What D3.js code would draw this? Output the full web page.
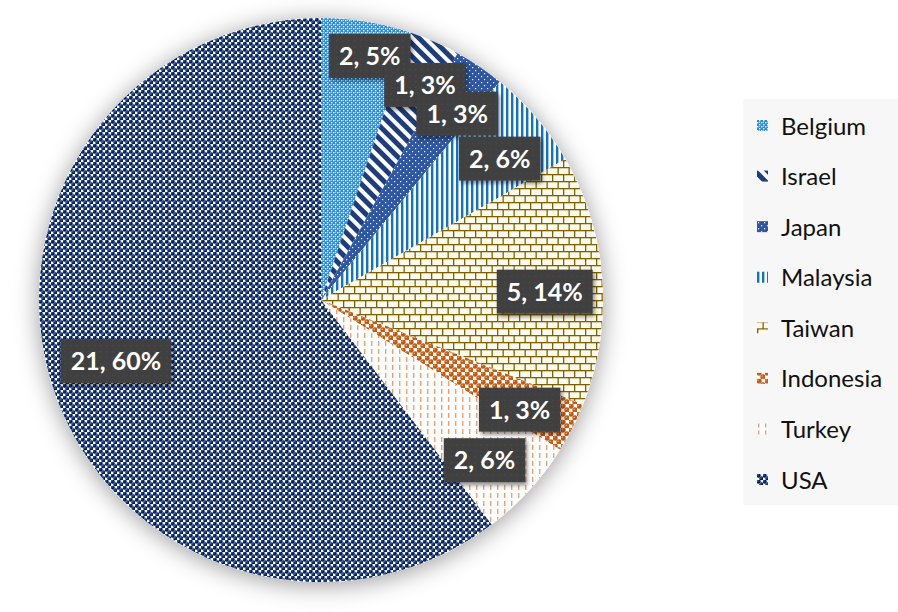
<!DOCTYPE html>
<html>
<head>
<meta charset="utf-8">
<script src="https://cdn.jsdelivr.net/npm/d3@7"></script>
<style>
html,body{margin:0;padding:0;background:#fff;}
svg{display:block;}
</style>
</head>
<body>
<svg id="chart" width="898" height="612"></svg>
<script>
// ---- data ----
const countries = ["Belgium","Israel","Japan","Malaysia","Taiwan","Indonesia","Turkey","USA"];
const values    = [1.8, 1, 1, 2, 5, 1, 2, 21];

const svg = d3.select("#chart");
const W = 898, H = 612;
const cx = 321, cy = 300, R = 282;

const defs = svg.append("defs");

// shadows
const f1 = defs.append("filter").attr("id","pieShadow").attr("x","-30%").attr("y","-30%").attr("width","160%").attr("height","160%");
f1.append("feDropShadow").attr("dx",0).attr("dy",3).attr("stdDeviation",12).attr("flood-color","#000").attr("flood-opacity",0.4);
const f2 = defs.append("filter").attr("id","lblShadow").attr("x","-20%").attr("y","-20%").attr("width","150%").attr("height","160%");
f2.append("feDropShadow").attr("dx",2).attr("dy",3).attr("stdDeviation",2).attr("flood-color","#000").attr("flood-opacity",0.45);

// patterns
function pat(id, w, h, draw, transform){
  const p = defs.append("pattern").attr("id",id).attr("patternUnits","userSpaceOnUse")
    .attr("width",w).attr("height",h);
  if (transform) p.attr("patternTransform",transform);
  draw(p);
}
// Belgium: blue fine lattice
pat("p0",4,4,p=>{
  p.append("rect").attr("width",4).attr("height",4).attr("fill","#2a8ad6");
  p.append("rect").attr("x",0).attr("y",0).attr("width",1.4).attr("height",1.4).attr("fill","#fff");
  p.append("rect").attr("x",2).attr("y",2).attr("width",1.4).attr("height",1.4).attr("fill","#fff");
  p.append("rect").attr("x",2).attr("y",0).attr("width",1).attr("height",1).attr("fill","#9ccbef");
});
// Israel: wide downward diagonal stripes
pat("p1",9,9,p=>{
  p.append("rect").attr("width",9).attr("height",9).attr("fill","#fff");
  p.append("rect").attr("width",5).attr("height",9).attr("fill","#1f3d7a");
},"rotate(-45)");
// Japan: blue with small white dots
pat("p2",6,6,p=>{
  p.append("rect").attr("width",6).attr("height",6).attr("fill","#2e56a3");
  p.append("rect").attr("x",1).attr("y",1).attr("width",1.2).attr("height",1.2).attr("fill","#fff");
  p.append("rect").attr("x",4).attr("y",4).attr("width",1.2).attr("height",1.2).attr("fill","#fff");
});
// Malaysia: vertical stripes
pat("p3",5,5,p=>{
  p.append("rect").attr("width",5).attr("height",5).attr("fill","#fff");
  p.append("rect").attr("width",2.4).attr("height",5).attr("fill","#1272c4");
});
// Taiwan: bricks
pat("p4",11,14,p=>{
  p.append("rect").attr("width",11).attr("height",14).attr("fill","#fffcee");
  const c="#7f6000", sw=1.3;
  p.append("line").attr("x1",0).attr("x2",11).attr("y1",0.65).attr("y2",0.65).attr("stroke",c).attr("stroke-width",sw);
  p.append("line").attr("x1",0).attr("x2",11).attr("y1",7.65).attr("y2",7.65).attr("stroke",c).attr("stroke-width",sw);
  p.append("line").attr("x1",0.65).attr("x2",0.65).attr("y1",0).attr("y2",7).attr("stroke",c).attr("stroke-width",sw);
  p.append("line").attr("x1",6.15).attr("x2",6.15).attr("y1",7).attr("y2",14).attr("stroke",c).attr("stroke-width",sw);
});
// Indonesia: orange spheres
pat("p5",8,8,p=>{
  p.append("rect").attr("width",8).attr("height",8).attr("fill","#fff");
  [[2,2],[6,6]].forEach(([x,y])=>{
    p.append("circle").attr("cx",x).attr("cy",y).attr("r",2.7).attr("fill","#c55a11");
    p.append("circle").attr("cx",x-0.8).attr("cy",y-0.8).attr("r",0.7).attr("fill","#f0b48a");
  });
});
// Turkey: light orange short vertical dashes
pat("p6",7,16,p=>{
  p.append("rect").attr("width",7).attr("height",16).attr("fill","#fff");
  p.append("rect").attr("x",1).attr("y",1).attr("width",1.4).attr("height",5).attr("fill","#eea16e");
  p.append("rect").attr("x",1).attr("y",9).attr("width",1.4).attr("height",5).attr("fill","#eea16e");
});
// USA: navy spheres checker
pat("p7",6,6,p=>{
  p.append("rect").attr("width",6).attr("height",6).attr("fill","#fff");
  [[1.5,1.5],[4.5,4.5]].forEach(([x,y])=>{
    p.append("circle").attr("cx",x).attr("cy",y).attr("r",2.2).attr("fill","#002060");
    p.append("circle").attr("cx",x-0.6).attr("cy",y-0.7).attr("r",0.6).attr("fill","#8fa6d6");
  });
  p.append("rect").attr("x",4).attr("y",0.5).attr("width",1).attr("height",1).attr("fill","#c8d4ee");
});
// label box texture
pat("pl",6,6,p=>{
  p.append("rect").attr("width",6).attr("height",6).attr("fill","#3f3f3f");
  p.append("rect").attr("x",2).attr("y",2).attr("width",1.5).attr("height",1.5).attr("fill","#4a4a4a");
});

const color = d3.scaleOrdinal().domain(countries).range(countries.map((d,i)=>`url(#p${i})`));

const data = countries.map((c,i)=>({country:c, value:values[i]}));
const total = d3.sum(values);
const pie = d3.pie().value(d=>d.value).sort(null);
const arcs = pie(data);
const arc = d3.arc().innerRadius(0).outerRadius(R);

const g = svg.append("g").attr("transform",`translate(${cx},${cy})`);
g.append("circle").attr("r",R).attr("fill","#fff").attr("filter","url(#pieShadow)");
g.selectAll("path.slice").data(arcs).join("path").attr("class","slice")
  .attr("d",arc).attr("fill",d=>color(d.data.country));

// labels ("best fit"-like placement)
const fmtPct = d3.format(".0%");
const boxLayer = g.append("g");
const textLayer = g.append("g");
const angOff = 2*Math.PI/180;
const labels = arcs.map(d=>{
  const txt = `${Math.round(d.data.value)}, ${fmtPct(d.data.value/total)}`;
  const bg = boxLayer.append("g");
  const tg = textLayer.append("g");
  const rect = bg.append("rect").attr("fill","url(#pl)").attr("filter","url(#lblShadow)");
  const t = tg.append("text").text(txt).attr("text-anchor","middle").attr("dy","0.36em")
    .attr("fill","#fff").attr("font-family","Lato, 'Open Sans', sans-serif").attr("font-weight","bold")
    .attr("font-size",25);
  const bb = t.node().getBBox();
  const pw = 10, h = 44;
  rect.attr("x",bb.x-pw).attr("y",-h/2).attr("width",bb.width+2*pw).attr("height",h);
  return {bg, tg, a:(d.startAngle+d.endAngle)/2+angOff, r:R*0.84, tw:bb.width, bw:bb.width+2*pw, bh:h};
});
const pos = L => [Math.sin(L.a)*L.r, -Math.cos(L.a)*L.r];
// keep boxes inside the circle
labels.forEach(L=>{
  const fits = ()=>{
    const [x,y]=pos(L);
    return [[-1,-1],[1,-1],[-1,1],[1,1]].every(([sx,sy])=>Math.hypot(x+sx*L.bw/2,y+sy*L.bh/2)<=R-8);
  };
  while(!fits() && L.r>R*0.5) L.r -= 1;
});
// resolve text collisions by pushing the earlier label outward
for (let it=0; it<300; it++){
  let moved=false;
  for (let i=0;i<labels.length;i++){
    const j=(i+1)%labels.length;
    const A=labels[i], B=labels[j];
    const [ax,ay]=pos(A), [bx,by]=pos(B);
    if (Math.abs(ax-bx) < (A.tw+B.tw)/2+4 && Math.abs(ay-by) < 28){ A.r += 1; moved=true; }
  }
  if(!moved) break;
}
labels.forEach(L=>{
  const [x,y]=pos(L);
  L.bg.attr("transform",`translate(${x},${y})`);
  L.tg.attr("transform",`translate(${x},${y})`);
});

// legend
svg.append("rect").attr("x",743).attr("y",99).attr("width",W-743).attr("height",406).attr("fill","#f7f7f7");
const ly = d3.scalePoint().domain(countries).range([126,480]);
const leg = svg.append("g");
countries.forEach(c=>{
  const gi = leg.append("g").attr("transform",`translate(757,${ly(c)})`);
  gi.append("rect").attr("x",0).attr("y",-6).attr("width",11).attr("height",11).attr("fill",color(c));
  gi.append("text").attr("x",24).attr("dy","0.36em").text(c)
    .attr("font-family","Lato, 'Open Sans', sans-serif").attr("font-size",24).attr("fill","#111");
});
</script>
</body>
</html>
